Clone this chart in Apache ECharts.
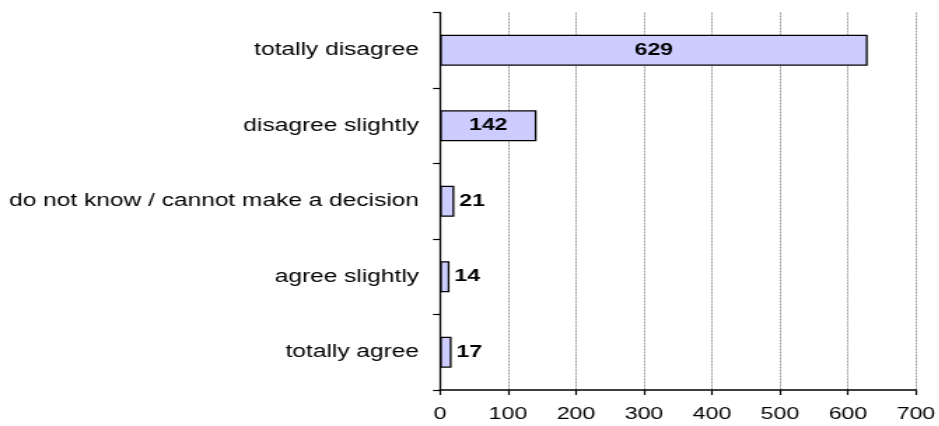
<!DOCTYPE html>
<html>
<head>
<meta charset="utf-8">
<script src="https://cdn.jsdelivr.net/npm/echarts@6/dist/echarts.min.js"></script>
<style>
  html, body { margin: 0; padding: 0; background: #fff; overflow: hidden; }
  /* The chart is laid out narrow and widened horizontally, giving the wide lettering */
  #chart { width: 670.7px; height: 426px; transform: scaleX(1.4); transform-origin: 0 0; }
</style>
</head>
<body>
<div id="chart"></div>
<script>
// Answers, listed top to bottom
const categories = [
  'totally disagree',
  'disagree slightly',
  'do not know / cannot make a decision',
  'agree slightly',
  'totally agree'
];
const counts = [629, 142, 21, 14, 17];
const axisMax = 700;
const axisStep = 100;

const font = '"Liberation Sans", Arial, sans-serif';

const chart = echarts.init(document.getElementById('chart'), null, { renderer: 'canvas' });

chart.setOption({
  animation: false,
  grid: { left: 314.3, right: 15.9, top: 12.5, bottom: 36, containLabel: false },
  xAxis: {
    type: 'value',
    min: 0,
    max: axisMax,
    interval: axisStep,
    axisLine: { show: true, lineStyle: { color: '#000', width: 1.5 } },
    axisTick: { show: true, length: 5, lineStyle: { color: '#000', width: 1.2 } },
    axisLabel: { color: '#000', fontFamily: font, fontSize: 16.5, margin: 16 },
    splitLine: { show: true, lineStyle: { color: '#7a7a7a', width: 0.8, type: [2, 1] } }
  },
  yAxis: {
    type: 'category',
    data: categories,
    inverse: true,
    axisLine: { show: true, lineStyle: { color: '#000', width: 1.3 } },
    axisTick: { show: true, length: 5, inside: false, lineStyle: { color: '#000', width: 1.2 } },
    axisLabel: { color: '#000', fontFamily: font, fontSize: 17.5, margin: 15 },
    splitLine: { show: false }
  },
  series: [{
    type: 'bar',
    data: counts.map(function (v) {
      const inside = v > 100;
      return {
        value: v,
        label: {
          position: inside ? 'inside' : 'right',
          distance: inside ? 0 : 3.5
        }
      };
    }),
    barWidth: 31,
    itemStyle: { color: '#ccccff', borderColor: '#000', borderWidth: 1.3 },
    label: {
      show: true,
      color: '#000',
      fontFamily: font,
      fontWeight: 'bold',
      fontSize: 16.5
    }
  }]
});
</script>
</body>
</html>
